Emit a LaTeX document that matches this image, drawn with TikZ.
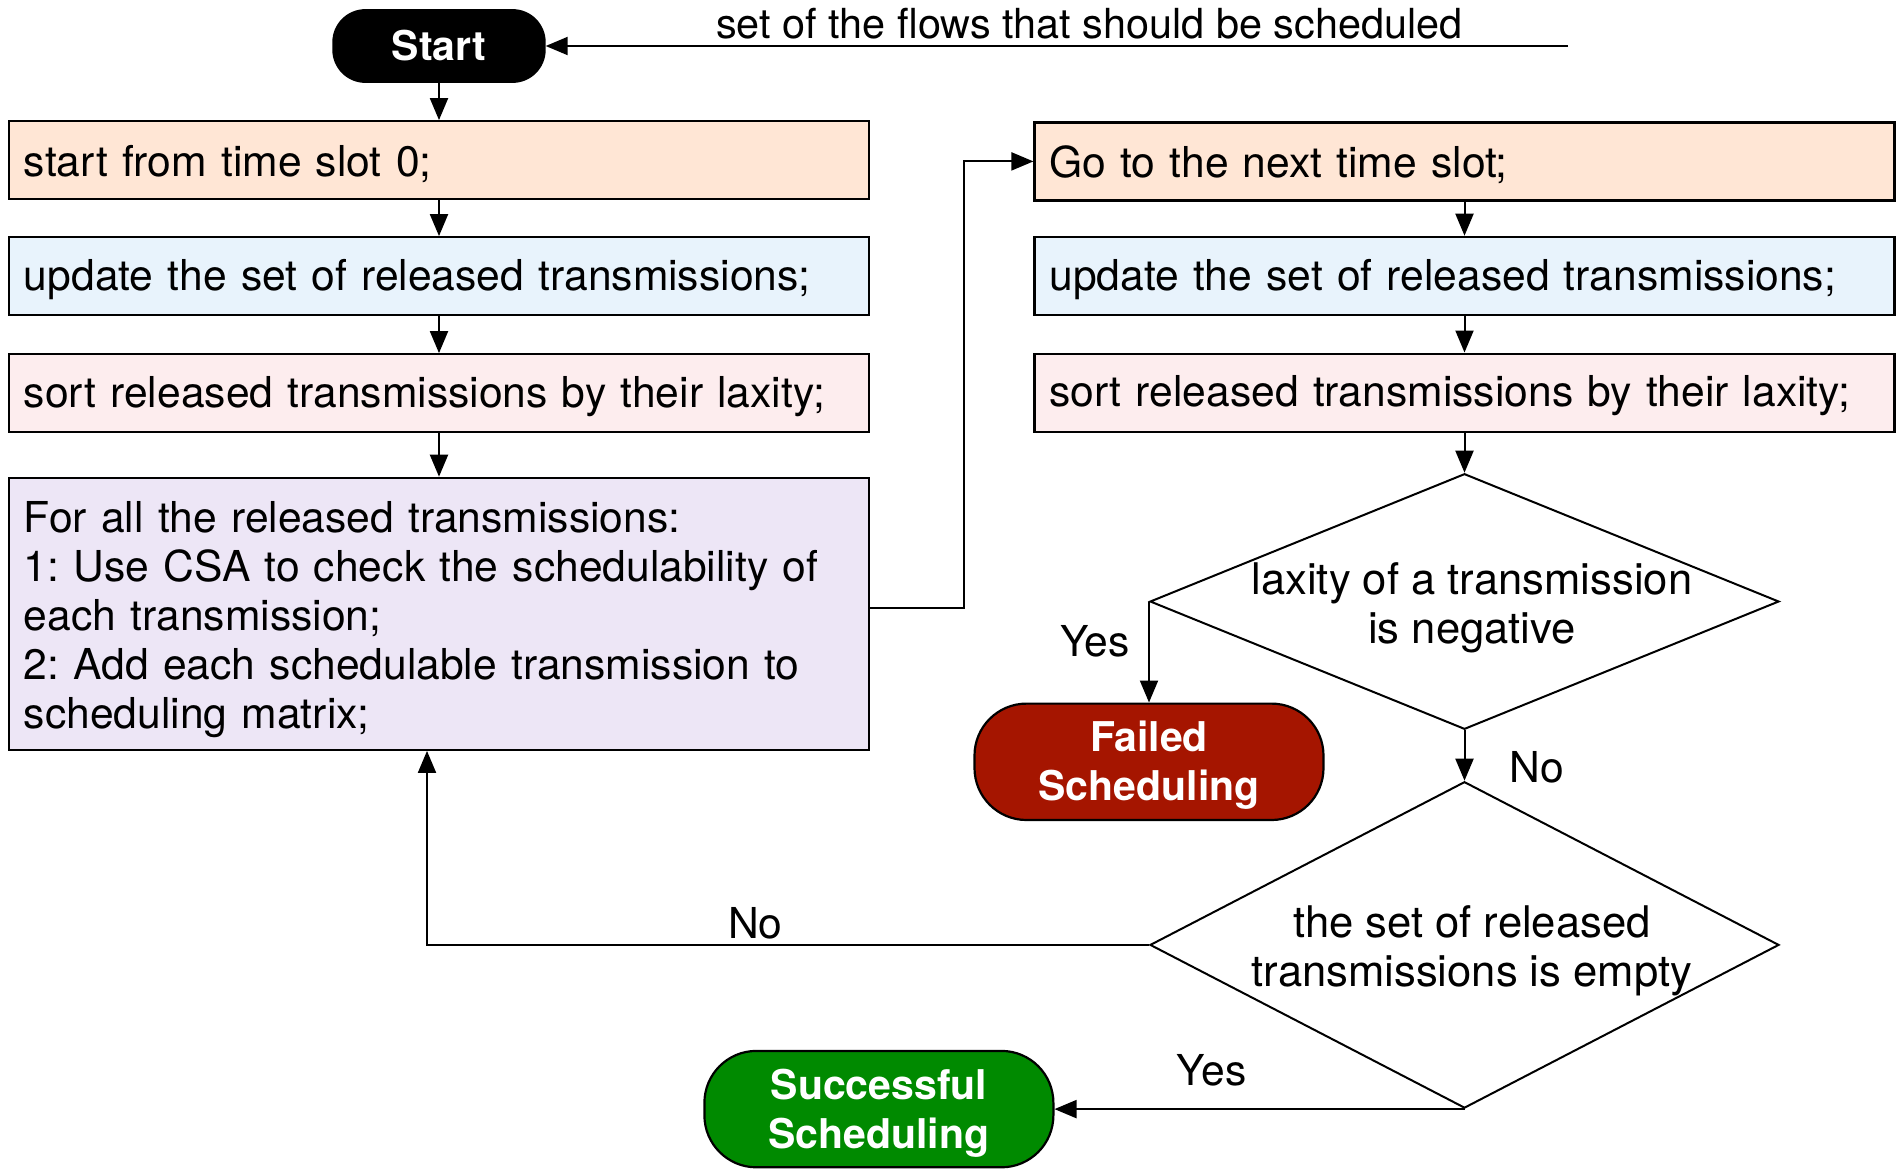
\documentclass[tikz,border=0pt]{standalone}
\usepackage{fontspec}
\setmainfont{TeX Gyre Heros}
\usepackage{xcolor}
\usepackage{tikz}
\usetikzlibrary{arrows.meta,shapes.geometric,positioning}
\definecolor{peach}{RGB}{255,230,213}
\definecolor{paleblue}{RGB}{232,243,252}
\definecolor{palepink}{RGB}{253,237,238}
\definecolor{lavender}{RGB}{237,230,246}
\definecolor{failred}{RGB}{165,21,0}
\definecolor{okgreen}{RGB}{0,138,0}
\newcommand{\flowfont}{\fontsize{21.3}{24.5}\selectfont}
\frenchspacing
\tikzset{
	>={Triangle[width=9pt,length=11pt]},
	% Specifications for style of nodes:
	stepbox/.style = {rectangle, draw=black, line width=1.1pt,
	text width=415pt, minimum height=39pt, inner xsep=7.5pt,
	align=left, font=\flowfont, execute at begin node={\rule{0pt}{19pt}}},
	terminal/.style = {rectangle, rounded corners=16pt,
	minimum width=105.6pt, minimum height=35.8pt,
	draw=black, line width=1.1pt, fill=black, text=white,
	align=center, font=\fontsize{20.5}{24.5}\selectfont\bfseries},
	endbox/.style = {rectangle, rounded corners=26pt,
	minimum width=174.5pt, minimum height=58.2pt, inner ysep=0pt,
	text width=160pt, draw=black, line width=1.1pt, text=white,
	align=center, font=\fontsize{20.5}{24.5}\selectfont\bfseries,
	execute at begin node={\rule{0pt}{19.1pt}}},
	decision/.style = {diamond, draw=black, line width=1pt,
	minimum width=314.5pt, inner sep=0pt},
	dtext/.style = {align=center, xshift=3.7pt, yshift=-3pt, font=\fontsize{21.8}{24.5}\selectfont},
	lbl/.style = {font=\flowfont},
}

\begin{document}
\begin{tikzpicture}[every node/.style={font=\flowfont}]
	\useasboundingbox (0,0) rectangle (951pt,-584pt);
		% left column
		\node (start)[terminal] at (219.5pt,-23pt) {Start};
		\node (slot0)[stepbox, fill=peach, below=18.6pt of start]{start from time slot 0;};
		\node (upd1)[stepbox, fill=paleblue, below=17.9pt of slot0]{update the set of released transmissions;};
		\node (sort1)[stepbox, fill=palepink, below=18.4pt of upd1]{sort released transmissions by their laxity;};
		\node (forall)[stepbox, fill=lavender, minimum height=136pt, below=21.7pt of sort1,
			execute at begin node={\rule{0pt}{21.5pt}}]{For all the released transmissions:\\1: Use CSA to check the schedulability of\\each transmission;\\2: Add each schedulable transmission to\\scheduling matrix;};
		% input of the flows
		\node (src)[shape=coordinate] at (784pt,-23pt) {};
		\node (flowtxt)[font=\fontsize{20.7}{24.5}\selectfont] at (544.7pt,-12pt) {set of the flows that should be scheduled};
		% right column
		\node (next)[stepbox, fill=peach] at (732.25pt,-80.7pt) {Go to the next time slot;};
		\node (upd2)[stepbox, fill=paleblue, below=17.1pt of next]{update the set of released transmissions;};
		\node (sort2)[stepbox, fill=palepink, below=18.3pt of upd2]{sort released transmissions by their laxity;};
		% decisions
		\node (d1)[decision, minimum height=127.8pt, below=20pt of sort2,
			label={[dtext]center:laxity of a transmission\\is negative}]{};
		\node (d2)[decision, minimum height=163.2pt, below=25.2pt of d1,
			label={[dtext]center:the set of released\\transmissions is empty}]{};
		\node (failed)[endbox, fill=failred, below=50.5pt of d1.west]{Failed\\Scheduling};
		\node (success)[endbox, fill=okgreen, left=205pt of d2.south]{Successful\\Scheduling};
		% connection coordinate for the loop back to the next slot
		\node (C)[shape=coordinate, right=47pt of forall, yshift=3pt] {};
		% branch labels
		\node (yes1)[lbl, xshift=-27pt, yshift=-19.7pt] at (d1.west) {Yes};
		\node (no1)[lbl, xshift=36.2pt, yshift=-18.5pt] at (d1.south) {No};
		\node (no2)[lbl, xshift=-196.8pt, yshift=10.8pt] at (d2.west) {No};
		\node (yes2)[lbl, xshift=-126.5pt, yshift=19.5pt] at (d2.south) {Yes};
		% draw arrows between nodes
		\draw[line width=1pt,->](src) -- (start.east);
		\draw[line width=1pt,->](start) -- (slot0);
		\draw[line width=1pt,->](slot0) -- (upd1);
		\draw[line width=1pt,->](upd1) -- (sort1);
		\draw[line width=1pt,->](sort1) -- (forall);
		\draw[line width=1pt,->](forall.east |- C) -- (C) |- (next.west);
		\draw[line width=1pt,->](next) -- (upd2);
		\draw[line width=1pt,->](upd2) -- (sort2);
		\draw[line width=1pt,->](sort2) -- (d1);
		\draw[line width=1pt,->](d1.west) -- (failed.north);
		\draw[line width=1pt,->](d1.south) -- (d2.north);
		\draw[line width=1pt,->](d2.west) -| ([xshift=-6pt]forall.south);
		\draw[line width=1pt,->](d2.south) -- (success.east);
	\end{tikzpicture}
\end{document}
